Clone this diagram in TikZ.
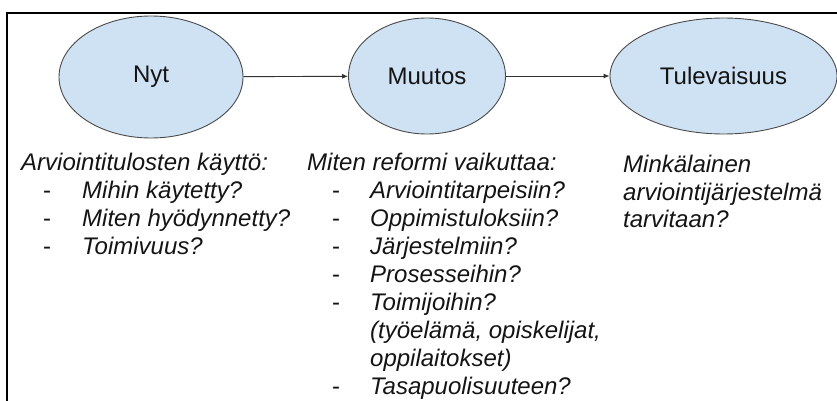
\documentclass[tikz,border=0pt]{standalone}
\usepackage{fontspec}
\setmainfont{Liberation Sans}
\usetikzlibrary{shapes.geometric,arrows.meta}
\definecolor{bubblefill}{HTML}{CFE2F3}
\definecolor{bubbleline}{HTML}{4A4A4A}
\definecolor{txt}{HTML}{141414}
\tikzset{
  bubble/.style={ellipse, draw=bubbleline, line width=0.9pt, fill=bubblefill,
    inner sep=0pt, text=txt, font=\fontsize{24}{27.6}\selectfont},
  arr/.style={draw=black!80, line width=0.9pt, -{Latex[length=6pt,width=5pt]}},
  line/.style={anchor=base west, inner sep=0pt, text=txt, font=\fontsize{24}{27.6}\selectfont\itshape},
  dashmark/.style={anchor=base west, inner sep=0pt, text=txt, font=\fontsize{24}{27.6}\selectfont},
  frame/.style={line width=2pt, draw=black}
}
\begin{document}
\begin{tikzpicture}[x=1pt,y=-1pt]
\useasboundingbox (0,0) rectangle (837,401);
% frame
\coordinate (fb) at (7,401);
\coordinate (ftl) at (7,13.5);
\coordinate (fr) at (840,13.5);
\draw[frame] (fb) -- (ftl) -- (fr);
% bubbles
\node[bubble, minimum width=184pt, minimum height=122pt] (nyt) at (151,77) {Nyt};
\node[bubble, minimum width=157pt, minimum height=116pt] (muutos) at (427,76) {Muutos};
\node[bubble, minimum width=227pt, minimum height=116pt] (tul) at (723.5,76) {Tulevaisuus};
\draw[arr] (nyt) -- (muutos);
\draw[arr] (muutos) -- (tul);
% left column
\node[line] (l0) at (21,170) {Arviointitulosten käyttö:};
\node[dashmark] (ld1) at (43,198) {-};
\node[line] (l1) at (82,198) {Mihin käytetty?};
\node[dashmark] (ld2) at (43,226) {-};
\node[line] (l2) at (82,226) {Miten hyödynnetty?};
\node[dashmark] (ld3) at (43,254) {-};
\node[line] (l3) at (82,254) {Toimivuus?};
% middle column
\node[line] (m0) at (307,170) {Miten reformi vaikuttaa:};
\node[dashmark] (md1) at (332,198) {-};
\node[line] (m1) at (370,198) {Arviointitarpeisiin?};
\node[dashmark] (md2) at (332,226) {-};
\node[line] (m2) at (370,226) {Oppimistuloksiin?};
\node[dashmark] (md3) at (332,254) {-};
\node[line] (m3) at (370,254) {Järjestelmiin?};
\node[dashmark] (md4) at (332,282) {-};
\node[line] (m4) at (370,282) {Prosesseihin?};
\node[dashmark] (md5) at (332,310) {-};
\node[line] (m5) at (370,310) {Toimijoihin?};
\node[line] (m6) at (370,338) {(työelämä, opiskelijat,};
\node[line] (m7) at (370,366) {oppilaitokset)};
\node[dashmark] (md8) at (332,394) {-};
\node[line] (m8) at (370,394) {Tasapuolisuuteen?};
% right column
\node[line] (r0) at (623,172) {Minkälainen};
\node[line] (r1) at (623,200) {arviointijärjestelmä};
\node[line] (r2) at (623,227.5) {tarvitaan?};
\end{tikzpicture}
\end{document}
